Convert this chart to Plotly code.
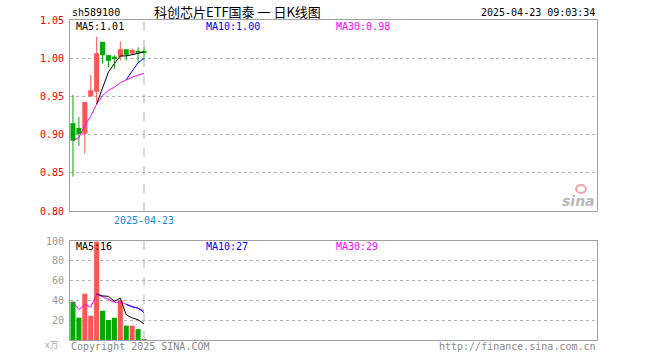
import plotly.graph_objects as go

# ---------------- data ----------------
dates = ["2025-04-07", "2025-04-08", "2025-04-09", "2025-04-10", "2025-04-11",
         "2025-04-14", "2025-04-15", "2025-04-16", "2025-04-17", "2025-04-18",
         "2025-04-21", "2025-04-22", "2025-04-23"]
opens = [0.915, 0.9086, 0.901, 0.950, 0.956, 1.0215, 1.004, 1.002, 1.002, 1.0117, 1.006, 1.0096, 1.0075]
closes = [0.892, 0.9008, 0.9426, 0.958, 1.0065, 1.0039, 0.9965, 0.999, 1.0117, 1.0044, 1.0108, 1.0078, 1.007]
highs = [0.952, 0.923, 0.943, 0.978, 1.028, 1.0215, 1.004, 1.004, 1.022, 1.0117, 1.013, 1.0144, 1.0144]
lows = [0.845, 0.885, 0.875, 0.950, 0.943, 0.993, 0.988, 0.986, 0.997, 0.997, 1.004, 0.9948, 0.997]
ma5 = [None, None, None, None, 0.940, 0.962, 0.982, 0.993, 1.003, 1.003, 1.005, 1.007, 1.008]
ma10 = [None, None, None, None, None, None, None, None, None, 0.972, 0.983, 0.994, 1.000]
ma30 = [0.892, 0.896, 0.912, 0.924, 0.940, 0.951, 0.958, 0.962, 0.968, 0.972, 0.975, 0.978, 0.980]

volumes = [38.7, 22.5, 46.8, 24.5, 99.3, 29.6, 20.2, 22.5, 40.0, 14.5, 14.5, 11.0, 0.8]
vma5 = [None, None, None, None, 46.4, 44.5, 44.1, 39.2, 42.3, 25.4, 22.3, 20.5, 16.2]
vma10 = [None, None, None, None, None, None, None, None, None, 35.9, 33.4, 32.3, 27.7]
vma30 = [38.7, 30.6, 36.0, 33.1, 46.4, 43.6, 40.3, 38.1, 38.3, 35.9, 33.9, 32.0, 29.6]

price_ticks = [0.80, 0.85, 0.90, 0.95, 1.00, 1.05]
vol_ticks = [20, 40, 60, 80, 100]
date_label = "2025-04-23"

title_text = "科创芯片ETF国泰 一 日K线图"
code_text = "sh589100"
time_text = "2025-04-23 09:03:34"
price_ma_labels = ["MA5:1.01", "MA10:1.00", "MA30:0.98"]
vol_ma_labels = ["MA5:16", "MA10:27", "MA30:29"]

# ---------------- styling ----------------
W, H = 660, 360
RED = "#ff5555"
GREEN = "#00aa00"
BORDER = "#a0a0a0"
GRID = "#b4b4b4"
MONO = "DejaVu Sans Mono"

X0, X1 = 70, 597
PT, PB = 20, 211
VT, VB = 241, 340
SLOT = 5.92
xr = [-0.5, -0.5 + (X1 - X0) / SLOT]

idx = list(range(len(dates)))
up = [c >= o for o, c in zip(opens, closes)]
colors = [RED if u else GREEN for u in up]

fig = go.Figure()

# wicks
for col, flag in ((RED, True), (GREEN, False)):
    wx, wy = [], []
    for i in idx:
        if up[i] == flag:
            wx += [i, i, None]
            wy += [lows[i], highs[i], None]
    fig.add_trace(go.Scatter(x=wx, y=wy, mode="lines", line=dict(color=col, width=1),
                             hoverinfo="skip", xaxis="x", yaxis="y"))

# bodies
minh = 0.25 / (PB - PT)
bases = [min(o, c) for o, c in zip(opens, closes)]
heights = [max(abs(c - o), minh) for o, c in zip(opens, closes)]
fig.add_trace(go.Bar(x=idx, y=heights, base=bases, width=0.85, marker=dict(color=colors, line=dict(width=0)),
                     xaxis="x", yaxis="y"))

# price MAs
for series, col in ((ma30, "#ff00ff"), (ma10, "#0000ff"), (ma5, "#000000")):
    fig.add_trace(go.Scatter(x=idx, y=series, mode="lines", line=dict(color=col, width=1),
                             xaxis="x", yaxis="y"))

# volume
fig.add_trace(go.Bar(x=idx, y=volumes, width=0.85, marker=dict(color=colors, line=dict(width=0)),
                     xaxis="x2", yaxis="y2"))
for series, col in ((vma30, "#ff00ff"), (vma10, "#0000ff"), (vma5, "#000000")):
    fig.add_trace(go.Scatter(x=idx, y=series, mode="lines", line=dict(color=col, width=1),
                             xaxis="x2", yaxis="y2"))

dom_x = [X0 / W, X1 / W]
axis_common = dict(showline=True, mirror=True, linecolor=BORDER, linewidth=1, zeroline=False, ticks="",
                   fixedrange=True, automargin=False)

fig.update_layout(
    width=W, height=H, autosize=False, margin=dict(l=0, r=0, t=0, b=0, pad=0),
    paper_bgcolor="white", plot_bgcolor="white", showlegend=False,
    barmode="overlay",
    font=dict(family=MONO, size=10),
    xaxis=dict(domain=dom_x, range=xr, anchor="y", showgrid=False, tickmode="array",
               tickvals=[len(dates) - 1], ticktext=[date_label],
               tickfont=dict(color="#1188dd", size=10, family=MONO), **axis_common),
    yaxis=dict(domain=[1 - PB / H, 1 - PT / H], range=[price_ticks[0], price_ticks[-1]], anchor="x",
               tickmode="array", tickvals=price_ticks, ticktext=["%.2f" % v for v in price_ticks],
               tickfont=dict(color="#ee0000", size=10, family=MONO), ticklabelstandoff=3,
               showgrid=True, gridcolor=GRID, griddash="dot", gridwidth=1, **axis_common),
    xaxis2=dict(domain=dom_x, range=xr, anchor="y2", showgrid=False, showticklabels=False, **axis_common),
    yaxis2=dict(domain=[1 - VB / H, 1 - VT / H], range=[0, 100], anchor="x2",
                tickmode="array", tickvals=vol_ticks, ticktext=[str(v) for v in vol_ticks],
                tickfont=dict(color="#999999", size=10, family=MONO), ticklabelstandoff=3,
                showgrid=True, gridcolor=GRID, griddash="dot", gridwidth=1, **axis_common),
)

# dashed vertical line at latest date
for xr_, yr_ in (("x", "y domain"), ("x2", "y2 domain")):
    fig.add_shape(type="line", xref=xr_, yref=yr_, x0=len(dates) - 1, x1=len(dates) - 1, y0=0, y1=1,
                  line=dict(color="#b0b0b0", width=1, dash="dash"), layer="above")


def ann(text, px, py, color="#000000", size=10, family=MONO, xanchor="left", **kw):
    fig.add_annotation(text=text, x=px / W, y=1 - py / H, xref="paper", yref="paper",
                       showarrow=False, xanchor=xanchor, yanchor="middle",
                       font=dict(color=color, size=size, family=family), **kw)


ann(code_text, 70, 13)
ann(title_text, 237, 12, size=13, family="Noto Sans CJK SC", xanchor="center")
ann(time_text, 597, 13, xanchor="right")

ma_cols = ["#000000", "#0000ff", "#ff00ff"]
ma_x = [74, 204, 334]
for t, c, x in zip(price_ma_labels, ma_cols, ma_x):
    ann(t, x, 27, color=c)
for t, c, x in zip(vol_ma_labels, ma_cols, ma_x):
    ann(t, x, 246, color=c)

ann("x万", 52, 344, color="#aaaaaa", size=9, family="Noto Sans CJK SC", xanchor="center")
ann("Copyright 2025 SINA.COM", 69, 346, color="#888888")
ann("http://finance.sina.com.cn", 598, 346, color="#888888", xanchor="right")

# sina watermark
fig.add_shape(type="circle", xref="paper", yref="paper",
              x0=576 / W, x1=586 / W, y0=1 - 193 / H, y1=1 - 185 / H,
              line=dict(color="#f4a0a0", width=2), fillcolor="rgba(255,255,255,0)")
ann("<b><i>sina</i></b>", 597, 201, color="#b8b8b8", size=14, family="DejaVu Sans", xanchor="right")

fig.write_html("out.html", config={"responsive": False, "displayModeBar": False},
               post_script="document.body.style.margin='0';document.body.style.overflow='hidden';")
